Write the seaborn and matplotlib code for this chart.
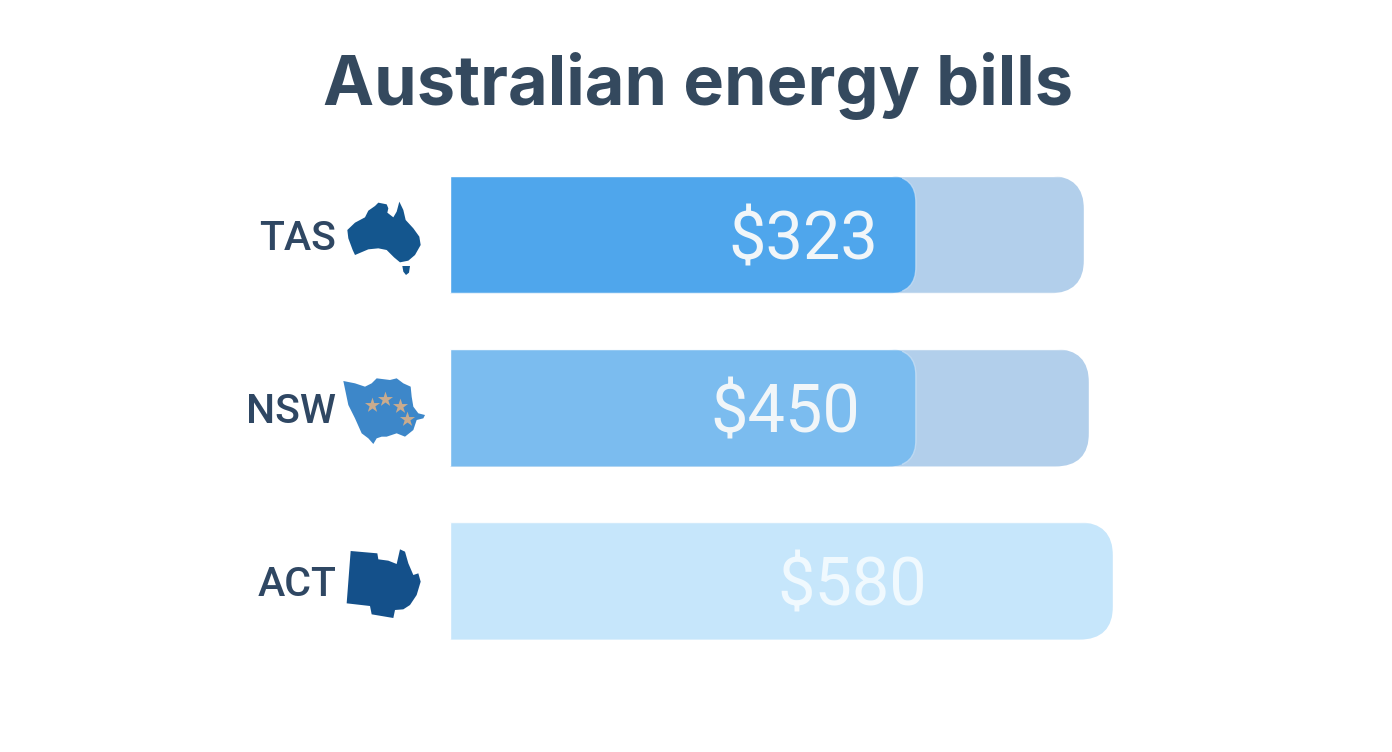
import matplotlib
matplotlib.use("Agg")
import matplotlib.pyplot as plt
import numpy as np
import pandas as pd
import seaborn as sns
from matplotlib.patches import FancyBboxPatch, Polygon
from matplotlib.transforms import Bbox, IdentityTransform

# bar lengths are read off the picture, they don't scale with the dollar labels
states = ["TAS", "NSW", "ACT"]
track_lengths = [634, 639, 663]
fill_lengths = [466, 466, np.nan]
bill_labels = ["$323", "$450", "$580"]

track_colors = ["#b2cfeb", "#b2cfeb", "#c6e6fb"]
fill_colors = ["#4fa6ec", "#7bbcef", "#c6e6fb"]
label_x = [353, 335, 402]
label_colors = ["#f1f6f9", "#f1f6f9", "#f0f9fe"]
TEXT_DARK = "#34495e"
W, H = 1392, 752

# map outlines, traced in zoom coordinates (3x crop)
tas_main = [(322,180),(345,158),(375,142),(385,122),(405,108),(415,98),(440,103),(445,115),(442,128),
            (460,142),(470,125),(478,95),(490,120),(497,150),(520,175),(538,200),(542,225),(525,255),
            (505,272),(480,277),(462,262),(450,250),(440,240),(415,235),(385,238),(345,255),(338,240),(325,205)]
tas_island = [(487,288),(510,288),(507,308),(498,315),(490,305)]
nsw_shape = [(310,633),(345,640),(375,650),(395,640),(410,625),(450,630),(470,625),(490,640),(512,650),
             (515,680),(520,710),(535,730),(555,735),(550,745),(530,750),(520,780),(495,800),(470,790),
             (440,800),(425,800),(410,805),(400,822),(385,805),(365,790),(345,745),(325,705)]
nsw_stars = [(395,705),(435,687),(480,708),(500,748)]
act_shape = [(332,93),(412,100),(415,118),(445,122),(470,132),(480,88),(495,95),(505,130),(520,165),
             (535,160),(542,185),(530,225),(510,255),(490,268),(465,270),(460,294),(395,283),(390,258),(320,250)]


def from_zoom(points, y_off):
    return [(240 + x / 3, y_off + y / 3) for x, y in points]


def rounded_box(bar, radius, **kwargs):
    # left end sits past the bar start so only the right corners show
    bb = bar.get_window_extent()
    return FancyBboxPatch((bb.x0 - 3 * radius, bb.y0), bb.width + 3 * radius, bb.height,
                          boxstyle=f"round,pad=0,rounding_size={radius}",
                          transform=IdentityTransform(), **kwargs)


sns.set_theme(style="white")
plt.rcParams["font.family"] = ["Inter", "DejaVu Sans"]

fig = plt.figure(figsize=(W / 100, H / 100), dpi=100, facecolor="white")
ax = fig.add_axes([450 / W, 1 - 667.6 / H, 700 / W, 519.6 / H])
df = pd.DataFrame({"state": states, "track": track_lengths, "fill": fill_lengths})

sns.barplot(data=df, x="track", y="state", hue="state", palette=track_colors, dodge=False,
            legend=False, width=0.678, saturation=1, ax=ax)
n_track = len(ax.patches)
sns.barplot(data=df, x="fill", y="state", hue="state", palette=fill_colors, dodge=False,
            legend=False, width=0.678, saturation=1, ax=ax)
ax.set_xlim(0, 700)
ax.set_ylim(2.5, -0.5)
ax.set_xlabel("")
ax.set_ylabel("")
ax.set_xticks([])
ax.patch.set_alpha(0)
sns.despine(ax=ax, left=True, bottom=True)
ax.tick_params(axis="y", length=0, pad=82)
for lab in ax.get_yticklabels():
    lab.set_fontsize(29.5)
    lab.set_fontweight(500)
    lab.set_color("#2f4763")
    lab.set_fontfamily(["Roboto", "DejaVu Sans"])

for i, bar in enumerate(list(ax.patches)):
    if bar.get_width() > 0:
        bar.set_clip_path(rounded_box(bar, 34 if i < n_track else 27))
        if i >= n_track:
            # thin pale rim on the rounded end of the front bars only
            bb = bar.get_window_extent()
            rim = rounded_box(bar, 27, facecolor="none", edgecolor="#c9e0f5", linewidth=1.0, alpha=0.7, zorder=4)
            ax.add_patch(rim)
            rim.set_transform(IdentityTransform())
            rim.set_clip_box(Bbox([[bb.x1 - 14, bb.y0 + 2], [bb.x1 + 3, bb.y1 - 2]]))

for i, txt in enumerate(bill_labels):
    ax.text(label_x[i], i, txt, ha="center", va="center_baseline", fontsize=48, color=label_colors[i],
            family=["Roboto", "DejaVu Sans"], zorder=5)

# overlay in pixel coordinates for title and the little maps
top = fig.add_axes([0, 0, 1, 1], zorder=3)
top.set_xlim(0, W)
top.set_ylim(H, 0)
top.axis("off")
top.text(698, 78, "Australian energy bills", ha="center", va="center_baseline", fontsize=49.3,
         fontweight="bold", color=TEXT_DARK)

for shape, y_off, col in [(tas_main, 170, "#14568e"), (tas_island, 170, "#14568e"),
                          (nsw_shape, 170, "#3d87c9"), (act_shape, 520, "#14508a")]:
    top.add_patch(Polygon(from_zoom(shape, y_off), closed=True, facecolor=col, edgecolor="none"))
star_pts = np.array(from_zoom(nsw_stars, 170))
top.scatter(star_pts[:, 0], star_pts[:, 1], marker="*", s=130, color="#c9ab8e", linewidths=0)

plt.savefig("out.png", dpi=100)
plt.close()
